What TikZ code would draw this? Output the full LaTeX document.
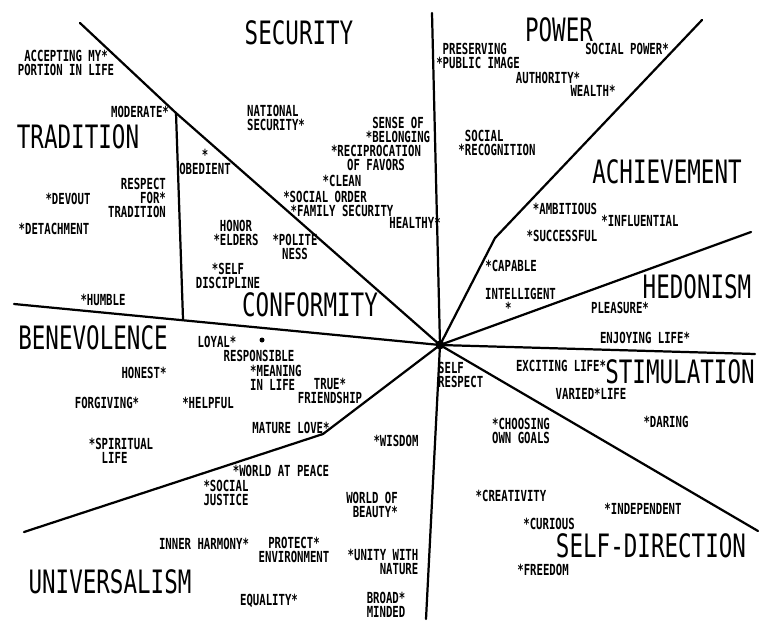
\documentclass[tikz,border=0pt]{standalone}
\usepackage{fontspec}
\newfontfamily\lblfont{DejaVu Sans Mono}[FakeStretch=0.7]
\tikzset{
  lbl/.style={font=\lblfont\bfseries\fontsize{13}{12}\selectfont, inner sep=0pt, align=center},
  ttl/.style={font=\lblfont\fontsize{27.5}{28}\selectfont, inner sep=0pt},
  bound/.style={line width=1.9pt, line cap=round, line join=round},
}
\begin{document}
\begin{tikzpicture}[x=0.03cm,y=-0.03cm]
\useasboundingbox (0,0) rectangle (766,621);
% boundary points
\coordinate (C) at (440,345);
\coordinate (trTop) at (80,23);
\coordinate (trJ) at (176,113);
\coordinate (trBot) at (183,319);
\coordinate (benL) at (14,304);
\coordinate (secTop) at (432,13);
\coordinate (powTop) at (702,20);
\coordinate (powBend) at (495,238);
\coordinate (hedR) at (751,232);
\coordinate (stiR) at (755,354);
\coordinate (sdR) at (758,531);
\coordinate (uniB) at (426,619);
\coordinate (uniBend) at (323,434);
\coordinate (uniL) at (24,532);
% boundaries
\draw[bound] (trTop) -- (trJ) -- (C);
\draw[bound] (trJ) -- (trBot);
\draw[bound] (benL) -- (C);
\draw[bound] (secTop) -- (C);
\draw[bound] (powTop) -- (powBend) -- (C);
\draw[bound] (hedR) -- (C);
\draw[bound] (C) -- (stiR);
\draw[bound] (C) -- (sdR);
\draw[bound] (C) -- (uniB);
\draw[bound] (C) -- (uniBend) -- (uniL);
\fill (C) circle[radius=4.5];
\node[circle, fill, inner sep=0pt, minimum size=5*0.03cm] (dot) at (262,340) {};
% titles
\node[ttl] (security) at (299,33) {SECURITY};
\node[ttl] (power) at (559,30) {POWER};
\node[ttl] (tradition) at (78,137) {TRADITION};
\node[ttl] (achievement) at (667,172) {ACHIEVEMENT};
\node[ttl] (hedonism) at (697,287) {HEDONISM};
\node[ttl] (conformity) at (310,305) {CONFORMITY};
\node[ttl] (benevolence) at (93,338) {BENEVOLENCE};
\node[ttl] (stimulation) at (680,372) {STIMULATION};
\node[ttl] (selfdir) at (651,546) {SELF-DIRECTION};
\node[ttl] (universalism) at (110,582) {UNIVERSALISM};
% tradition
\node[lbl] (accept) at (66,63) {ACCEPTING MY*\\PORTION IN LIFE};
\node[lbl] (moderate) at (140,112) {MODERATE*};
\node[lbl] (obedient) at (205,162) {*\\OBEDIENT};
\node[lbl, align=right] (respect) at (137,198) {RESPECT\\FOR*\\TRADITION};
\node[lbl] (devout) at (68,199) {*DEVOUT};
\node[lbl] (detach) at (54,229) {*DETACHMENT};
\node[lbl] (humble) at (103,300) {*HUMBLE};
% security
\node[lbl, align=left] (natsec) at (276,118) {NATIONAL\\SECURITY*};
\node[lbl] (sense) at (398,130) {SENSE OF\\*BELONGING};
\node[lbl] (recip) at (376,158) {*RECIPROCATION\\OF FAVORS};
\node[lbl] (clean) at (342,181) {*CLEAN};
\node[lbl] (socord) at (325,197) {*SOCIAL ORDER};
\node[lbl] (family) at (342,211) {*FAMILY SECURITY};
\node[lbl] (healthy) at (415,223) {HEALTHY*};
% conformity
\node[lbl] (honor) at (236,233) {HONOR\\*ELDERS};
\node[lbl] (polite) at (295,247) {*POLITE\\NESS};
\node[lbl] (selfdisc) at (228,276) {*SELF\\DISCIPLINE};
% power
\node[lbl, align=left] (pubimg) at (478,56) {\phantom{*}PRESERVING\\*PUBLIC IMAGE};
\node[lbl] (socpow) at (627,49) {SOCIAL POWER*};
\node[lbl] (auth) at (548,78) {AUTHORITY*};
\node[lbl] (wealth) at (593,91) {WEALTH*};
\node[lbl, align=left] (socrec) at (497,143) {\phantom{*}SOCIAL\\*RECOGNITION};
% achievement
\node[lbl] (ambit) at (565,209) {*AMBITIOUS};
\node[lbl] (influ) at (640,221) {*INFLUENTIAL};
\node[lbl] (success) at (562,236) {*SUCCESSFUL};
\node[lbl] (capable) at (511,266) {*CAPABLE};
\node[lbl, align=left, anchor=north west] (intel) at (485,288) {INTELLIGENT\\\hspace*{17pt}*};
% hedonism / stimulation
\node[lbl] (pleasure) at (620,308) {PLEASURE*};
\node[lbl] (enjoy) at (645,338) {ENJOYING LIFE*};
\node[lbl] (exciting) at (561,366) {EXCITING LIFE*};
\node[lbl, align=left, anchor=north west] (selfresp) at (438,362) {SELF\\RESPECT};
\node[lbl] (varied) at (591,394) {VARIED*LIFE};
\node[lbl] (daring) at (666,422) {*DARING};
% self-direction
\node[lbl] (choosing) at (521,431) {*CHOOSING\\OWN GOALS};
\node[lbl] (creat) at (511,496) {*CREATIVITY};
\node[lbl] (indep) at (643,509) {*INDEPENDENT};
\node[lbl] (curious) at (549,524) {*CURIOUS};
\node[lbl] (freedom) at (543,570) {*FREEDOM};
% benevolence
\node[lbl] (loyal) at (217,342) {LOYAL*};
\node[lbl] (respons) at (259,356) {RESPONSIBLE};
\node[lbl, align=left, anchor=north west] (meaning) at (250,365) {*MEANING\\IN LIFE};
\node[lbl] (truefr) at (330,391) {TRUE*\\FRIENDSHIP};
\node[lbl] (honest) at (144,373) {HONEST*};
\node[lbl] (forgiving) at (107,403) {FORGIVING*};
\node[lbl] (helpful) at (208,403) {*HELPFUL};
\node[lbl, align=left] (spiritual) at (121,451) {*SPIRITUAL\\\phantom{*S}LIFE};
\node[lbl] (mature) at (291,428) {MATURE LOVE*};
% universalism
\node[lbl] (wisdom) at (396,441) {*WISDOM};
\node[lbl] (peace) at (281,471) {*WORLD AT PEACE};
\node[lbl] (socjust) at (226,493) {*SOCIAL\\JUSTICE};
\node[lbl, align=right] (beauty) at (372,505) {WORLD OF\\BEAUTY*};
\node[lbl] (inner) at (204,544) {INNER HARMONY*};
\node[lbl] (protect) at (294,550) {PROTECT*\\ENVIRONMENT};
\node[lbl, align=right] (unity) at (383,562) {*UNITY WITH\\NATURE};
\node[lbl] (equality) at (269,601) {EQUALITY*};
\node[lbl, align=right] (broad) at (386,605) {BROAD*\\MINDED};
\end{tikzpicture}
\end{document}
